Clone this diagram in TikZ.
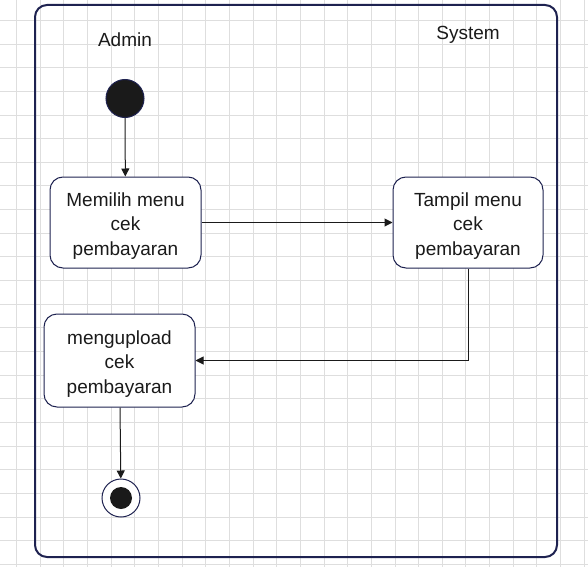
\documentclass[tikz,border=0pt]{standalone}
\usepackage{fontspec}
\setmainfont{Liberation Sans}
\usepackage{tikz}
\usetikzlibrary{positioning,shapes,arrows,arrows.meta}
\usepackage{xcolor}
\definecolor{navy}{HTML}{1E2250}
\definecolor{ink}{HTML}{1A1A1A}
\definecolor{gridgray}{HTML}{DEDEDE}
\tikzstyle{activity}=[rectangle, draw=navy, line width=1pt, rounded corners=13pt, fill=white, align=center,
text=ink, minimum width=151pt, minimum height=91pt, inner sep=0pt, text height=69pt, text depth=4pt,
font=\fontsize{19}{24.5}\selectfont]
\tikzstyle{lane}=[text=ink, font=\fontsize{19}{23}\selectfont]
\tikzstyle{flow}=[-{Triangle[length=8pt,width=8pt]}, draw=ink, line width=1pt]

\begin{document}
\begin{tikzpicture}[x=1pt, y=-1pt]
            \useasboundingbox (0,0) rectangle (588,567);
            % background grid
            \foreach \i in {0,...,24}
                \draw [gridgray, line width=0.8pt] (16.5+23.65*\i,0) -- (16.5+23.65*\i,567);
            \foreach \i in {0,...,23}
                \draw [gridgray, line width=0.8pt] (0,20.3+23.65*\i) -- (588,20.3+23.65*\i);
            % frame
            \draw [navy, line width=2pt, rounded corners=12pt] (35,5) rectangle (557,557);
            \node (admin)[lane] at (125,39.5) {Admin};
            \node (system)[lane] at (468,34.5) {System};
            \node (1)[circle, fill=ink, draw=navy, line width=1pt, minimum size=38pt, inner sep=0pt] at (125,98.5) {};
            \node (2)[activity] at (125.5,222.5) {Memilih menu\\cek\\pembayaran};
            \node (3)[activity, minimum width=150pt] at (468,222.5) {Tampil menu\\cek\\pembayaran};
            \node (4)[activity, minimum height=93pt] at (119.5,360.5) {mengupload\\cek\\pembayaran};
            \node (5)[circle, draw=navy, line width=1pt, fill=white, minimum size=38pt, inner sep=0pt] at (121,498) {};
            \node (5a)[circle, fill=ink, minimum size=22pt, inner sep=0pt] at (5) {};
            \draw [flow] (1) -- (2);
            \draw [flow] (2) -- (3);
            \draw [flow] (3) |- (4);
            \draw [flow] (4) -- (5);
        \end{tikzpicture}
\end{document}
